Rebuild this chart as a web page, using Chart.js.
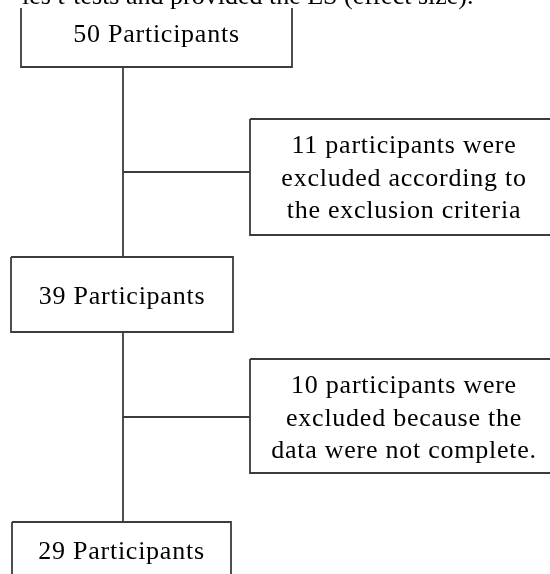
<!DOCTYPE html>
<html>
<head>
<meta charset="utf-8">
<script src="https://cdn.jsdelivr.net/npm/chart.js@4/dist/chart.umd.min.js"></script>
<style>
  html, body { margin: 0; padding: 0; background: #fff; }
  #wrap { width: 550px; height: 574px; position: relative; }
</style>
</head>
<body>
<div id="wrap"><canvas id="flow"></canvas></div>
<script>
// Données du diagramme de flux
const captionText = 'les t-tests and provided the ES (effect size).';
const stageCounts = [50, 39, 29];
const stageLabel = 'Participants';
const excludedCounts = [11, 10];
const excludedReasons = [
    ['participants were', 'excluded according to', 'the exclusion criteria'],
    ['participants were', 'excluded because the', 'data were not complete.']
];

// Mise en page (unités des axes : x 0..550, y 0..574 vers le bas)
const spineX = 123;
const mainBoxes = [
    { x0: 21, x1: 292, y0: 8, y1: 67, textY: 42, openTop: true },
    { x0: 11, x1: 233, y0: 257, y1: 332, textY: 304 },
    { x0: 12, x1: 231, y0: 522, y1: 600, textY: 559 }
];
const sideBoxes = [
    { x0: 250, x1: 558, y0: 119, y1: 235, branchY: 172 },
    { x0: 250, x1: 558, y0: 359, y1: 473, branchY: 417 }
];
const textCenterX = 404;
const lineGap = 32.5;
const firstLineOffset = 34;
const strokeColor = '#3c3c3c';

function boxOutline(b) {
    if (b.openTop) {
        return [{ x: b.x0, y: b.y0 }, { x: b.x0, y: b.y1 }, { x: b.x1, y: b.y1 }, { x: b.x1, y: b.y0 }];
    }
    return [
        { x: b.x0, y: b.y0 }, { x: b.x1, y: b.y0 }, { x: b.x1, y: b.y1 },
        { x: b.x0, y: b.y1 }, { x: b.x0, y: b.y0 }
    ];
}

function segment(points) {
    return {
        type: 'line',
        data: points,
        borderColor: strokeColor,
        borderWidth: 1.8,
        pointRadius: 0,
        fill: false,
        tension: 0,
        showLine: true
    };
}

const datasets = [];
mainBoxes.forEach(b => datasets.push(segment(boxOutline(b))));
sideBoxes.forEach(b => datasets.push(segment(boxOutline(b))));
// Tronc vertical entre les étapes
for (let i = 0; i < mainBoxes.length - 1; i++) {
    datasets.push(segment([
        { x: spineX, y: mainBoxes[i].y1 },
        { x: spineX, y: mainBoxes[i + 1].y0 }
    ]));
}
// Branches vers les boîtes d'exclusion
sideBoxes.forEach(b => datasets.push(segment([
    { x: spineX, y: b.branchY },
    { x: b.x0, y: b.branchY }
])));

// Plugin pour écrire les textes dans les boîtes
const flowText = {
    id: 'flowText',
    afterDatasetsDraw(chart) {
        const ctx = chart.ctx;
        const xs = chart.scales.x;
        const ys = chart.scales.y;
        ctx.save();
        ctx.fillStyle = '#000';
        ctx.textBaseline = 'alphabetic';

        // Légende coupée en haut
        ctx.font = '26px "Liberation Serif"';
        ctx.textAlign = 'left';
        ctx.fillText(captionText, xs.getPixelForValue(22), ys.getPixelForValue(4));

        ctx.font = '26px "Liberation Serif"';
        ctx.letterSpacing = '0.75px';
        ctx.textAlign = 'center';
        stageCounts.forEach((n, i) => {
            const b = mainBoxes[i];
            ctx.fillText(n + ' ' + stageLabel,
                xs.getPixelForValue((b.x0 + b.x1) / 2), ys.getPixelForValue(b.textY));
        });
        excludedCounts.forEach((n, i) => {
            const b = sideBoxes[i];
            excludedReasons[i].forEach((line, j) => {
                const txt = j === 0 ? n + ' ' + line : line;
                ctx.fillText(txt, xs.getPixelForValue(textCenterX),
                    ys.getPixelForValue(b.y0 + firstLineOffset + j * lineGap));
            });
        });
        ctx.restore();
    }
};

new Chart(document.getElementById('flow'), {
    type: 'scatter',
    data: { datasets: datasets },
    options: {
        responsive: true,
        maintainAspectRatio: false,
        animation: false,
        events: [],
        layout: { padding: 0 },
        plugins: {
            legend: { display: false },
            tooltip: { enabled: false },
            title: { display: false }
        },
        scales: {
            x: { type: 'linear', min: 0, max: 550, display: false },
            y: { type: 'linear', min: 0, max: 574, reverse: true, display: false }
        }
    },
    plugins: [flowText]
});
</script>
</body>
</html>
